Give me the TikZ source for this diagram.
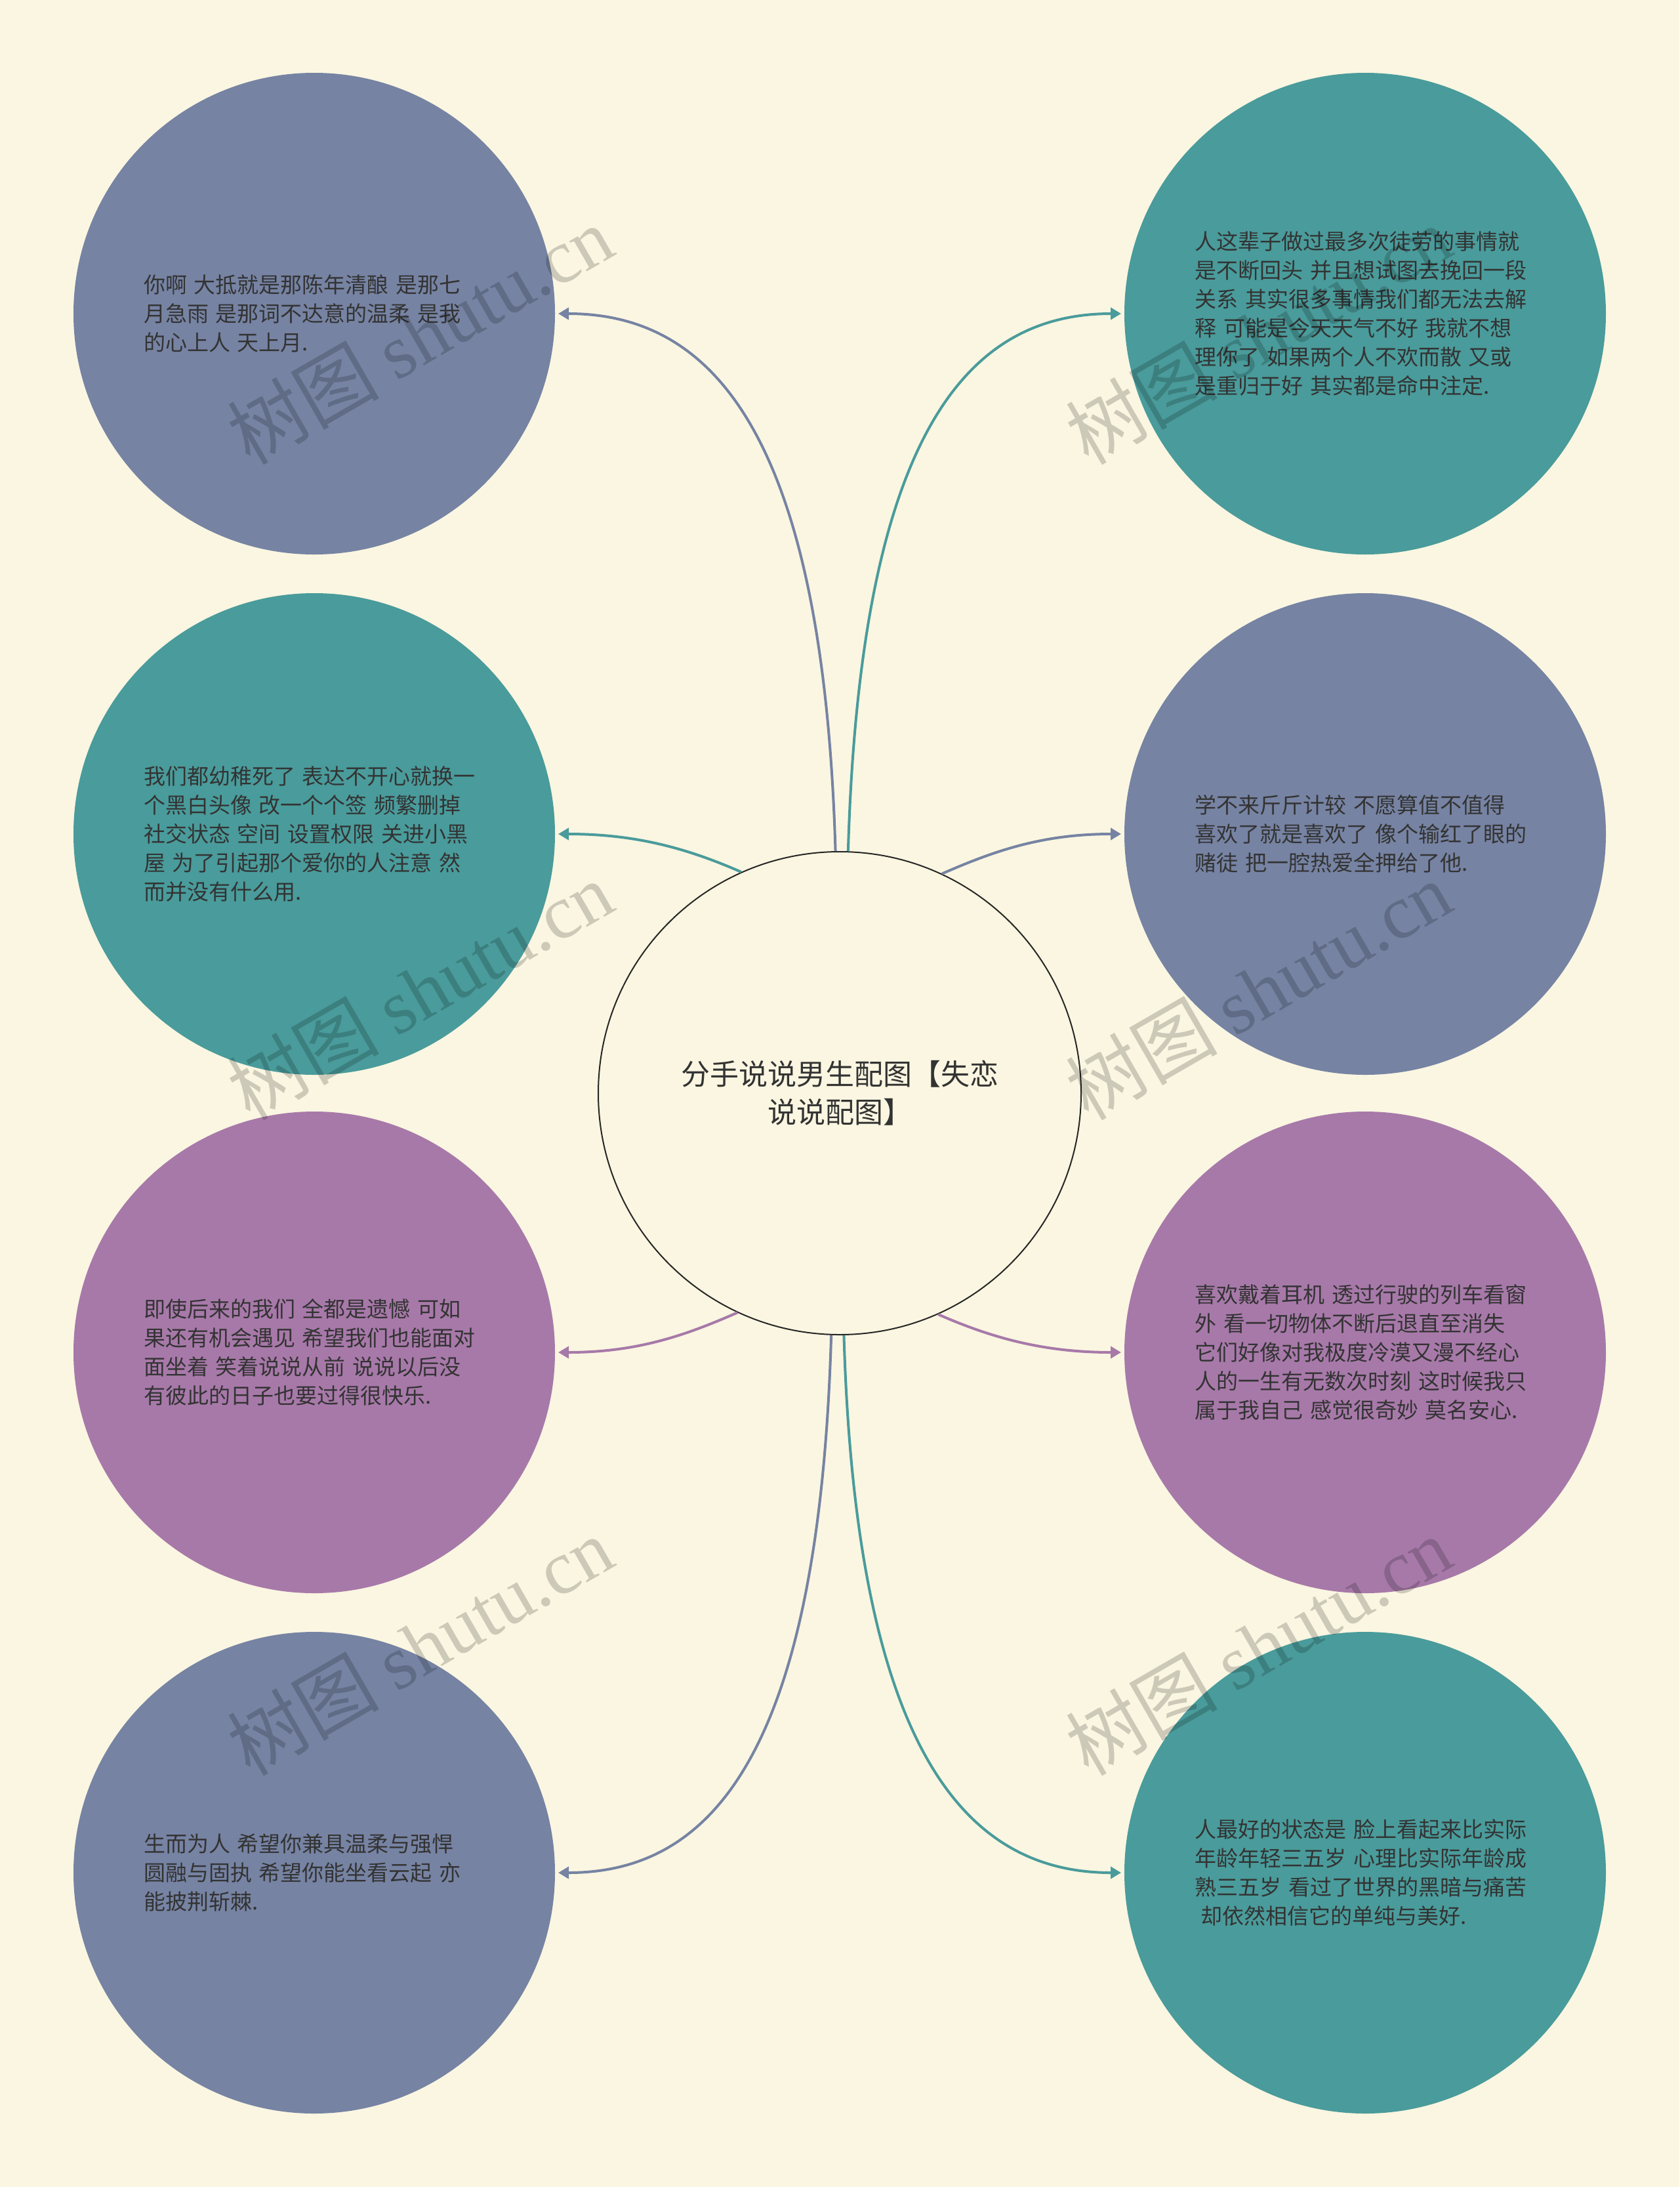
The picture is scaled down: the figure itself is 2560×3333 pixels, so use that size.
\documentclass[tikz,border=0pt]{standalone}
\usepackage{fontspec}
\setmainfont{Noto Sans CJK SC}
\newfontfamily\wmserif{Liberation Serif}
\usetikzlibrary{arrows.meta}
\definecolor{bgc}{HTML}{FAF6E1}
\definecolor{slate}{HTML}{7683A3}
\definecolor{tealc}{HTML}{4A9B9B}
\definecolor{plum}{HTML}{A779A9}
\definecolor{txt}{HTML}{333333}
\begin{document}
\begin{tikzpicture}[x=1pt,y=1pt,
  leaf/.style={circle, minimum size=734pt, inner sep=0pt, outer sep=5pt,
    text width=520pt, align=left, text=txt, font=\fontsize{33}{44}\selectfont},
  hub/.style={circle, draw=black!85, line width=2pt, fill=bgc, minimum size=736pt,
    inner sep=0pt, align=center, text=txt, font=\fontsize{44}{58}\selectfont},
  link/.style={line width=4pt, -{Triangle[length=16pt,width=18pt]}},
  wm/.style={rotate=30, text=black, text opacity=0.18, inner sep=0pt,
    font=\fontsize{116}{116}\selectfont}
]
\fill[bgc] (0,0) rectangle (2560,-3333);
\useasboundingbox (0,0) rectangle (2560,-3333);

\node[hub] (c) at (1280,-1666) {分手说说男生配图【失恋\\说说配图】};

\node[leaf, fill=slate] (l1) at (479,-478) {你啊 大抵就是那陈年清酿 是那七\\月急雨 是那词不达意的温柔 是我\\的心上人 天上月.};
\node[leaf, fill=tealc] (r1) at (2081,-478) {人这辈子做过最多次徒劳的事情就\\是不断回头 并且想试图去挽回一段\\关系 其实很多事情我们都无法去解\\释 可能是今天天气不好 我就不想\\理你了 如果两个人不欢而散 又或\\是重归于好 其实都是命中注定.};
\node[leaf, fill=tealc] (l2) at (479,-1271) {我们都幼稚死了 表达不开心就换一\\个黑白头像 改一个个签 频繁删掉\\社交状态 空间 设置权限 关进小黑\\屋 为了引起那个爱你的人注意 然\\而并没有什么用.};
\node[leaf, fill=slate] (r2) at (2081,-1271) {学不来斤斤计较 不愿算值不值得\\喜欢了就是喜欢了 像个输红了眼的\\赌徒 把一腔热爱全押给了他.};
\node[leaf, fill=plum] (l3) at (479,-2061) {即使后来的我们 全都是遗憾 可如\\果还有机会遇见 希望我们也能面对\\面坐着 笑着说说从前 说说以后没\\有彼此的日子也要过得很快乐.};
\node[leaf, fill=plum] (r3) at (2081,-2061) {喜欢戴着耳机 透过行驶的列车看窗\\外 看一切物体不断后退直至消失\\它们好像对我极度冷漠又漫不经心\\人的一生有无数次时刻 这时候我只\\属于我自己 感觉很奇妙 莫名安心.};
\node[leaf, fill=slate] (l4) at (479,-2854) {生而为人 希望你兼具温柔与强悍\\圆融与固执 希望你能坐看云起 亦\\能披荆斩棘.};
\node[leaf, fill=tealc] (r4) at (2081,-2854) {人最好的状态是 脸上看起来比实际\\年龄年轻三五岁 心理比实际年龄成\\熟三五岁 看过了世界的黑暗与痛苦\\\hspace*{9pt}却依然相信它的单纯与美好.};

\draw[link, slate] (c.91.7) .. controls +(-19,647) and +(229,0) .. (l1.east);
\draw[link, tealc] (c.88.3) .. controls +(19,647) and +(-229,0) .. (r1.west);
\draw[link, tealc] (c.114.5) .. controls +(-80,35) and +(120,0) .. (l2.east);
\draw[link, slate] (c.65.5) .. controls +(80,35) and +(-120,0) .. (r2.west);
\draw[link, plum] (c.245.5) .. controls +(-80,-35) and +(120,0) .. (l3.east);
\draw[link, plum] (c.294.5) .. controls +(80,-35) and +(-120,0) .. (r3.west);
\draw[link, slate] (c.268.3) .. controls +(-19,-647) and +(229,0) .. (l4.east);
\draw[link, tealc] (c.271.7) .. controls +(19,-647) and +(-229,0) .. (r4.west);

\node[wm] (w1) at (640,-510) {树图 {\wmserif shutu.cn}};
\node[wm] (w2) at (640,-1509) {树图 {\wmserif shutu.cn}};
\node[wm] (w3) at (640,-2508) {树图 {\wmserif shutu.cn}};
\node[wm] (w4) at (1918,-510) {树图 {\wmserif shutu.cn}};
\node[wm] (w5) at (1918,-1509) {树图 {\wmserif shutu.cn}};
\node[wm] (w6) at (1918,-2508) {树图 {\wmserif shutu.cn}};
\end{tikzpicture}
\end{document}
